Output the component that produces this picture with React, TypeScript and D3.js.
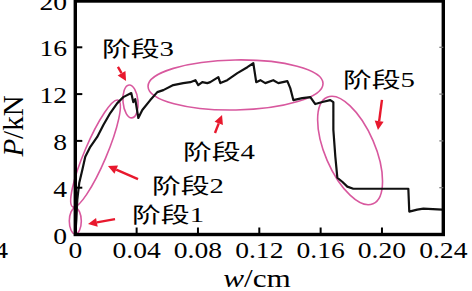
import React from "react";
import * as d3 from "d3";

const W = [0, 0.0007, 0.0013, 0.0026, 0.0046, 0.0065, 0.0098, 0.0143, 0.0183, 0.0228, 0.0274, 0.0313, 0.0365, 0.0378, 0.0391, 0.0411, 0.0437, 0.0489, 0.0535, 0.0574, 0.0639, 0.0704, 0.075, 0.0783, 0.0802, 0.0828, 0.0861, 0.088, 0.0933, 0.0946, 0.0991, 0.1057, 0.1122, 0.1161, 0.118, 0.1207, 0.1239, 0.1291, 0.1324, 0.1383, 0.1402, 0.1422, 0.148, 0.1533, 0.1565, 0.1611, 0.1663, 0.1683, 0.1683, 0.1696, 0.1709, 0.1741, 0.1774, 0.1813, 0.1878, 0.2035, 0.2172, 0.2178, 0.223, 0.227, 0.2393];
const P = [0, 1.28, 2.98, 4.43, 5.53, 6.64, 7.49, 8.34, 9.36, 10.38, 11.23, 11.74, 12.09, 11.32, 11.57, 9.96, 10.64, 11.49, 12.17, 12.34, 12.77, 12.94, 13.02, 13.19, 12.77, 13.02, 12.94, 13.02, 13.45, 12.94, 13.19, 13.79, 14.3, 14.64, 13.02, 13.19, 12.94, 13.19, 12.94, 13.11, 12.51, 11.49, 11.66, 11.74, 11.15, 11.32, 11.49, 11.32, 8.94, 6.64, 4.85, 4.51, 4.09, 3.91, 3.91, 3.91, 3.91, 1.96, 2.13, 2.21, 2.13];

const X_TICKS = [0, 0.04, 0.08, 0.12, 0.16, 0.2, 0.24];
const X_TICK_LABELS = ["0", "0.04", "0.08", "0.12", "0.16", "0.20", "0.24"];
const Y_TICKS = [0, 4, 8, 12, 16, 20];

const STAGE_LABELS = ["阶段1", "阶段2", "阶段3", "阶段4", "阶段5"];
// label anchor (data units): left x, baseline y
const LABEL_W = [0.037, 0.05, 0.0174, 0.0702, 0.1746];
const LABEL_P = [1.07, 3.55, 15.26, 6.45, 12.61];
// ellipse centres (data units)
const ELL_W = [0, 0.0132, 0.036, 0.1045, 0.1792];
const ELL_P = [1.15, 6.92, 11.37, 12.78, 7.18];
// arrows tail -> head (data units)
const ARR_W0 = [0.0259, 0.0409, 0.0278, 0.0911, 0.2];
const ARR_P0 = [1.32, 4.74, 14.32, 8.68, 11.5];
const ARR_W1 = [0.0083, 0.0213, 0.0331, 0.0957, 0.1974];
const ARR_P1 = [0.9, 5.86, 13.12, 10.21, 8.93];

const ELL_SHAPE = [
  { rx: 6, ry: 13, rot: 0 },
  { rx: 58, ry: 11, rot: -67 },
  { rx: 7.5, ry: 16.5, rot: -5 },
  { rx: 87.5, ry: 25, rot: -1 },
  { rx: 58, ry: 25, rot: 66.7 },
];

const L = 75.3, R = 443.3, T = 0.5, B = 234.5;
const PINK = "#d8589e";
const RED = "#e8182d";
const SERIF = "'Liberation Serif', 'Times New Roman', serif";

export default function App() {
  const x = d3.scaleLinear().domain([0, 0.24]).range([L, R]);
  const y = d3.scaleLinear().domain([0, 20]).range([B, T]);
  const line = d3
    .line<number>()
    .x((_, i) => x(W[i]))
    .y((d) => y(d));

  return (
    <div style={{ position: "absolute", left: 0, top: 0 }}>
      <svg width={472} height={291} style={{ display: "block", background: "#fff" }}>
        {/* annotations: ellipses */}
        {ELL_W.map((w, i) => (
          <ellipse
            key={"e" + i}
            cx={0}
            cy={0}
            rx={ELL_SHAPE[i].rx}
            ry={ELL_SHAPE[i].ry}
            transform={`translate(${x(w)},${y(ELL_P[i])}) rotate(${ELL_SHAPE[i].rot})`}
            fill="none"
            stroke={PINK}
            strokeWidth={1.6}
          />
        ))}

        {/* curve */}
        <path d={line(P) || ""} fill="none" stroke="#111" strokeWidth={2.2} strokeLinejoin="round" />

        {/* frame */}
        <rect x={L} y={T + 0.5} width={R - L} height={B - T - 0.5} fill="none" stroke="#000" strokeWidth={3.4} />

        {/* bottom ticks */}
        {X_TICKS.slice(1, -1).map((t) => (
          <line key={"xt" + t} x1={x(t)} x2={x(t)} y1={B} y2={B - 7} stroke="#000" strokeWidth={2} />
        ))}
        {/* left & right ticks */}
        {Y_TICKS.slice(1, -1).map((t) => (
          <g key={"yt" + t}>
            <line x1={L} x2={L + 7} y1={y(t)} y2={y(t)} stroke="#000" strokeWidth={2} />
            <line x1={R} x2={R - 4} y1={y(t)} y2={y(t)} stroke="#777" strokeWidth={1.2} />
          </g>
        ))}

        {/* x tick labels */}
        {X_TICKS.map((t, i) => (
          <text
            key={"xl" + t}
            transform={`translate(${x(t)},258) scale(1.2,1)`}
            textAnchor="middle"
            fontFamily={SERIF}
            fontSize={23}
            fill="#000"
          >
            {X_TICK_LABELS[i]}
          </text>
        ))}
        {/* neighbour panel remnant */}
        <text transform="translate(8,258) scale(1.2,1)" textAnchor="end" fontFamily={SERIF} fontSize={23} fill="#000">
          0.24
        </text>

        {/* y tick labels */}
        {Y_TICKS.map((t) => (
          <text
            key={"yl" + t}
            transform={`translate(67,${y(t) + 9}) scale(1.2,1)`}
            textAnchor="end"
            fontFamily={SERIF}
            fontSize={23}
            fill="#000"
          >
            {t}
          </text>
        ))}

        {/* axis titles */}
        <text transform="translate(257,287) scale(1.2,1)" textAnchor="middle" fontFamily={SERIF} fontSize={26} fill="#000">
          <tspan fontStyle="italic">w</tspan>/cm
        </text>
        <text transform="translate(23,126) rotate(-90)" textAnchor="middle" fontFamily={SERIF} fontSize={29} fill="#000">
          <tspan fontStyle="italic">P</tspan>/kN
        </text>

        {/* arrows */}
        {ARR_W0.map((w0, i) => {
          const x0 = x(w0), y0 = y(ARR_P0[i]);
          const x1 = x(ARR_W1[i]), y1 = y(ARR_P1[i]);
          const a = Math.atan2(y1 - y0, x1 - x0);
          const hl = 9, hw = 4.5;
          const bx = x1 - hl * Math.cos(a), by = y1 - hl * Math.sin(a);
          const px = -Math.sin(a) * hw, py = Math.cos(a) * hw;
          return (
            <g key={"a" + i}>
              <line x1={x0} y1={y0} x2={bx} y2={by} stroke={RED} strokeWidth={2.4} />
              <polygon points={`${x1},${y1} ${bx + px},${by + py} ${bx - px},${by - py}`} fill={RED} />
            </g>
          );
        })}

        {/* stage labels */}
        {STAGE_LABELS.map((s, i) => (
          <text
            key={"s" + i}
            x={x(LABEL_W[i])}
            y={y(LABEL_P[i])}
            fontFamily="'Liberation Serif', 'Noto Sans CJK SC', serif"
            fontSize={21}
            textLength={72}
            lengthAdjust="spacingAndGlyphs"
            fill="#000"
          >
            {s}
          </text>
        ))}
      </svg>
    </div>
  );
}
